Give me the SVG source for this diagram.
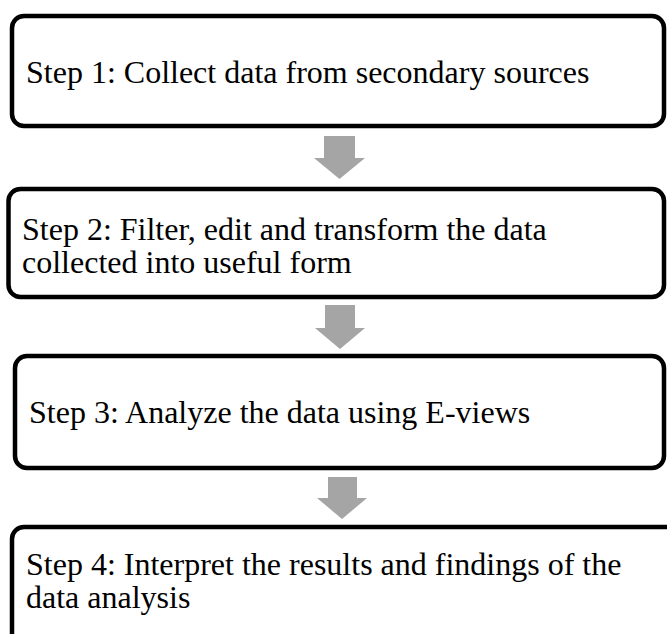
<svg xmlns="http://www.w3.org/2000/svg" width="667" height="634" viewBox="0 0 667 634">
<style>
.box{fill:#ffffff;stroke:#000000;stroke-width:4.5}
.lbl{font-family:"Liberation Serif","Times New Roman",serif;font-size:32px;fill:#000000}
.arr{fill:#a5a5a5}
</style>
<rect x="0" y="0" width="667" height="634" fill="#ffffff"/>
<g id="connectors">
<polygon class="arr" points="324,136 355,136 355,158 365,158 339.5,179 314,158 324,158"/>
<polygon class="arr" points="325,305 355,305 355,328 365,328 340,349 315,328 325,328"/>
<polygon class="arr" points="328,477 357,477 357,498 367,498 342,519 317,498 328,498"/>
</g>
<g id="step1">
<rect class="box" x="12" y="16" width="652" height="110" rx="12"/>
<text class="lbl" x="26" y="83">Step 1: Collect data from secondary sources</text>
</g>
<g id="step2">
<rect class="box" x="8.5" y="189" width="655.5" height="108" rx="12"/>
<text class="lbl" x="22" y="240">Step 2: Filter, edit and transform the data</text>
<text class="lbl" x="22" y="273">collected into useful form</text>
</g>
<g id="step3">
<rect class="box" x="15" y="356" width="649" height="112" rx="12"/>
<text class="lbl" x="29" y="423">Step 3: Analyze the data using E-views</text>
</g>
<g id="step4">
<rect class="box" x="12" y="527" width="680" height="140" rx="12"/>
<text class="lbl" x="26" y="575">Step 4: Interpret the results and findings of the</text>
<text class="lbl" x="26" y="608">data analysis</text>
</g>
</svg>
